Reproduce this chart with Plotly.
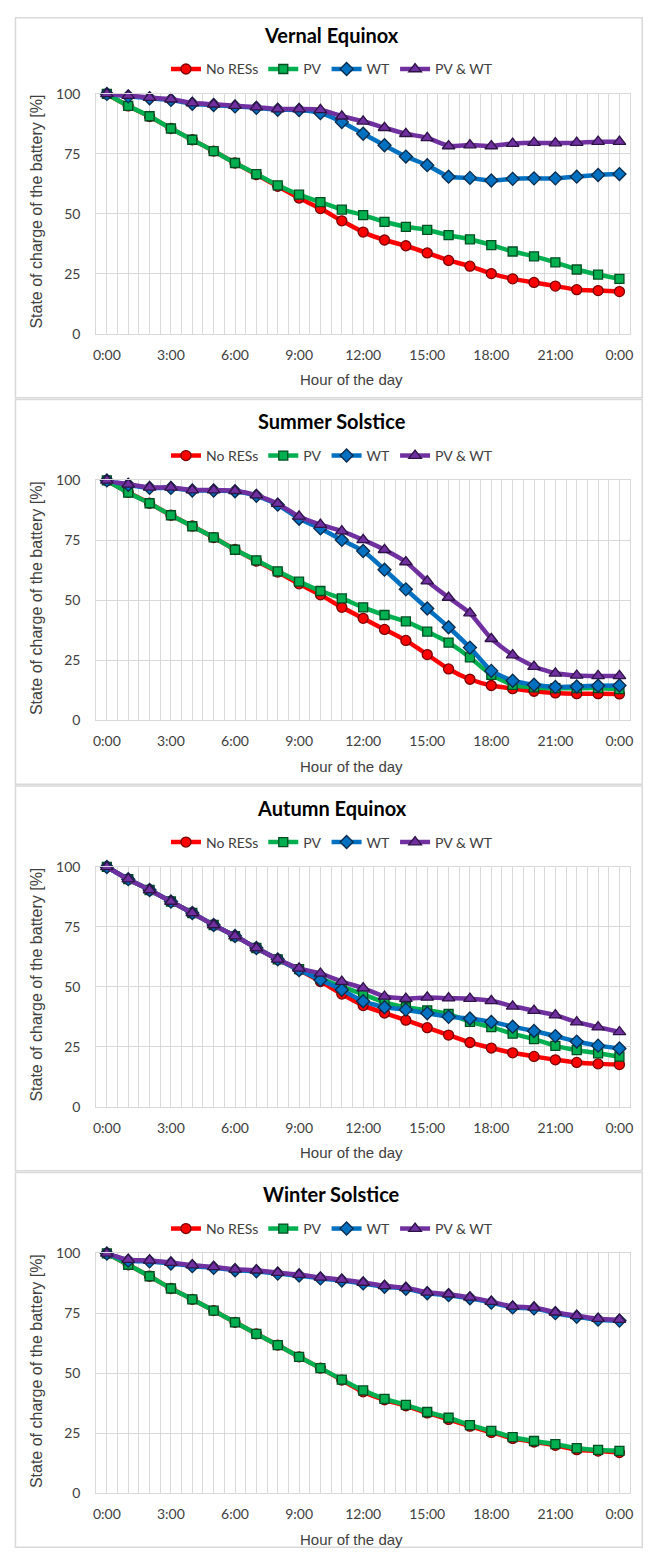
import plotly.graph_objects as go

# The page keeps the browser's default 8px body margin, so the figure is
# sized to fit the 654x1564 window exactly inside that margin.
WIN_W, WIN_H = 654, 1564
OFF = 8
W, H = WIN_W - 2 * OFF, WIN_H - 2 * OFF

hours = list(range(25))
tick_positions = [0, 3, 6, 9, 12, 15, 18, 21, 24]
tick_labels = ["0:00", "3:00", "6:00", "9:00", "12:00", "15:00", "18:00", "21:00", "0:00"]
y_ticks = [0, 25, 50, 75, 100]

panel_titles = ["Vernal Equinox", "Summer Solstice", "Autumn Equinox", "Winter Solstice"]
series_names = ["No RESs", "PV", "WT", "PV & WT"]

# Vernal Equinox
no_res_ve = [100, 95.0, 90.6, 85.6, 80.9, 76.2, 71.2, 66.4, 61.5, 56.6, 52.2, 47.1, 42.4, 39.1, 36.7, 33.7, 30.6, 28.2, 25.1, 22.9, 21.4, 19.9, 18.4, 18.0, 17.6]
pv_ve = [100, 95.0, 90.7, 85.6, 80.9, 76.2, 71.2, 66.6, 61.9, 58.0, 54.9, 51.8, 49.5, 46.7, 44.6, 43.3, 41.1, 39.4, 37.0, 34.3, 32.3, 29.8, 26.8, 24.7, 22.9]
wt_ve = [100, 99.0, 98.2, 97.5, 95.9, 95.4, 94.8, 94.2, 93.4, 93.3, 92.0, 88.3, 83.4, 78.6, 73.9, 70.3, 65.5, 65.0, 63.9, 64.6, 64.8, 64.8, 65.5, 66.2, 66.6]
pvwt_ve = [100, 99.3, 98.5, 97.8, 96.2, 95.7, 95.1, 94.5, 93.7, 93.7, 93.4, 90.7, 88.6, 85.9, 83.4, 81.7, 78.3, 78.7, 78.3, 79.3, 79.7, 79.5, 79.7, 80.1, 80.1]

# Summer Solstice
no_res_ss = [100, 95.0, 90.5, 85.5, 81.0, 76.2, 71.2, 66.4, 61.8, 56.9, 52.3, 47.1, 42.5, 37.9, 33.3, 27.4, 21.4, 17.1, 14.5, 13.2, 12.1, 11.4, 11.1, 11.1, 11.0]
pv_ss = [100, 94.9, 90.5, 85.5, 80.9, 76.3, 71.1, 66.7, 62.1, 57.8, 53.9, 50.8, 47.1, 43.9, 41.2, 37.0, 32.4, 26.2, 18.9, 14.8, 13.7, 13.4, 13.4, 13.4, 13.0]
wt_ss = [100, 98.2, 96.9, 96.9, 95.8, 95.8, 95.5, 93.6, 89.9, 84.0, 80.0, 75.2, 70.6, 62.8, 54.6, 46.6, 38.8, 30.3, 20.6, 16.5, 14.8, 13.9, 14.1, 14.4, 14.5]
pvwt_ss = [100, 98.4, 97.1, 97.1, 96.0, 96.0, 95.7, 93.9, 90.3, 85.0, 81.6, 78.9, 75.2, 71.1, 66.0, 58.0, 51.2, 44.7, 34.0, 27.2, 22.4, 19.6, 18.7, 18.5, 18.5]

# Autumn Equinox
no_res_ae = [100, 94.9, 90.4, 85.6, 80.8, 75.8, 71.2, 66.2, 61.5, 57.0, 52.2, 47.0, 42.2, 39.1, 36.1, 33.0, 29.9, 26.8, 24.5, 22.5, 21.0, 19.6, 18.5, 17.9, 17.6]
pv_ae = [100, 94.9, 90.4, 85.6, 80.8, 75.8, 71.2, 66.2, 61.5, 57.4, 53.6, 50.1, 47.0, 43.5, 41.5, 40.2, 38.7, 35.4, 33.2, 30.5, 28.2, 25.4, 23.6, 22.3, 20.9]
wt_ae = [100, 94.9, 90.4, 85.6, 80.8, 75.8, 71.2, 66.2, 61.5, 57.0, 52.9, 48.8, 44.0, 41.5, 40.5, 39.0, 37.5, 36.8, 35.4, 33.4, 31.6, 29.5, 27.2, 25.5, 24.3]
pvwt_ae = [100, 94.9, 90.4, 85.6, 80.8, 75.8, 71.2, 66.2, 61.5, 57.7, 55.6, 52.2, 49.5, 46.0, 45.1, 45.6, 45.3, 45.1, 44.2, 41.9, 40.1, 38.2, 35.3, 33.2, 31.2]

# Winter Solstice
no_res_ws = [100, 95.3, 90.5, 85.4, 80.9, 76.2, 71.3, 66.5, 61.8, 56.9, 52.2, 47.2, 42.3, 39.0, 36.5, 33.5, 30.8, 28.0, 25.4, 22.9, 21.4, 20.0, 18.2, 17.6, 17.0]
pv_ws = [100, 95.3, 90.5, 85.4, 80.9, 76.2, 71.3, 66.5, 61.8, 56.9, 52.2, 47.4, 42.9, 39.4, 36.9, 33.9, 31.5, 28.4, 26.0, 23.4, 21.8, 20.5, 18.8, 18.1, 17.7]
wt_ws = [100, 97.0, 96.7, 95.8, 94.7, 94.0, 93.0, 92.6, 91.6, 90.8, 89.6, 88.7, 87.5, 86.1, 85.3, 83.4, 82.6, 81.3, 79.5, 77.5, 77.1, 75.1, 73.6, 72.4, 72.0]
pvwt_ws = [100, 97.4, 97.1, 96.2, 95.1, 94.4, 93.4, 93.0, 92.0, 91.2, 90.0, 89.1, 87.9, 86.5, 85.7, 83.8, 83.0, 81.7, 79.9, 77.9, 77.5, 75.5, 74.0, 72.8, 72.4]

panels = [
    [no_res_ve, pv_ve, wt_ve, pvwt_ve],
    [no_res_ss, pv_ss, wt_ss, pvwt_ss],
    [no_res_ae, pv_ae, wt_ae, pvwt_ae],
    [no_res_ws, pv_ws, wt_ws, pvwt_ws],
]

line_colors = ["#FF0000", "#00B050", "#0070C0", "#7030A0"]
edge_colors = ["#7A0000", "#004D22", "#0B2A4A", "#2E1345"]
symbols = ["circle", "square", "diamond", "triangle-up"]
msizes = [10, 9, 10, 11]

CAL = "Lato, 'Open Sans', sans-serif"
ARI = "'Liberation Sans', Arial, sans-serif"
TXT = "#404040"
GRID = "#D9D9D9"

PANEL_STEP = 390.8
sx_left, sx_right = 94.0, 633.0


def fx(sx):
    """window x pixel -> paper x"""
    return (sx - OFF) / W


def fy(sy):
    """window y pixel -> paper y"""
    return 1 - (sy - OFF) / H


fig = go.Figure()
annotations = []
shapes = []
layout_extra = {}

for k, data in enumerate(panels):
    oy = k * PANEL_STEP
    ax = "" if k == 0 else str(k + 1)
    xname = "x" + ax
    yname = "y" + ax
    lname = "legend" + ax
    for i, vals in enumerate(data):
        fig.add_trace(go.Scatter(
            x=hours, y=vals, name=series_names[i],
            mode="lines+markers",
            line=dict(color=line_colors[i], width=4.5, shape="spline", smoothing=0.5),
            marker=dict(symbol=symbols[i], size=msizes[i], color=line_colors[i],
                        line=dict(color=edge_colors[i], width=1.3)),
            xaxis=xname, yaxis=yname, legend=lname, cliponaxis=False,
            hoverinfo="x+y+name",
        ))
    top = oy + 85.8
    bot = oy + 328.3
    layout_extra["xaxis" + ax] = dict(
        domain=[fx(sx_left), fx(sx_right)], anchor=yname,
        range=[-0.5, 24.5], tickmode="array", tickvals=tick_positions, ticktext=tick_labels,
        showgrid=True, gridcolor=GRID, gridwidth=1,
        minor=dict(tick0=-0.5, dtick=0.5, showgrid=True, gridcolor=GRID, gridwidth=1),
        showline=True, linecolor=GRID, mirror=True, zeroline=False,
        ticks="", tickfont=dict(family=CAL, size=14, color=TXT), ticklabelstandoff=8,
        fixedrange=True,
    )
    layout_extra["yaxis" + ax] = dict(
        domain=[fy(bot), fy(top)], anchor=xname,
        range=[0, 100], tickmode="array", tickvals=y_ticks,
        showgrid=True, gridcolor=GRID, gridwidth=1,
        showline=True, linecolor=GRID, mirror=True, zeroline=False,
        ticks="", tickfont=dict(family=CAL, size=14, color=TXT), ticklabelstandoff=12,
        fixedrange=True,
    )
    layout_extra[lname] = dict(
        orientation="h", x=fx(332), xanchor="center", y=fy(oy + 61), yanchor="middle",
        font=dict(family=CAL, size=14, color=TXT), bgcolor="rgba(0,0,0,0)",
        itemwidth=30, tracegroupgap=0,
    )
    annotations.append(dict(
        text="<b>" + panel_titles[k] + "</b>", x=fx(332), y=fy(oy + 26),
        xref="paper", yref="paper", xanchor="center", yanchor="middle", showarrow=False,
        font=dict(family=CAL, size=20, color="#000000"),
    ))
    annotations.append(dict(
        text="Hour of the day", x=fx(352), y=fy(oy + 375),
        xref="paper", yref="paper", xanchor="center", yanchor="middle", showarrow=False,
        font=dict(family=ARI, size=15, color=TXT),
    ))
    annotations.append(dict(
        text="State of charge of the battery [%]", x=fx(34), y=fy(oy + 205),
        xref="paper", yref="paper", xanchor="center", yanchor="middle", showarrow=False,
        textangle=-90, font=dict(family=ARI, size=16, color=TXT),
    ))
    top_b = max(oy + 4, OFF + 0.8)
    bot_b = min(oy + 393, OFF + H - 0.8)
    shapes.append(dict(
        type="rect", xref="paper", yref="paper",
        x0=fx(12.5), x1=fx(OFF + W - 0.8), y0=fy(bot_b), y1=fy(top_b),
        line=dict(color=GRID, width=1.5), fillcolor="rgba(0,0,0,0)", layer="below",
    ))

fig.update_layout(
    width=W, height=H, margin=dict(l=0, r=0, t=0, b=0),
    paper_bgcolor="white", plot_bgcolor="white",
    annotations=annotations, shapes=shapes, showlegend=True,
    **layout_extra,
)

fig.write_html("out.html", config={"displayModeBar": False})
